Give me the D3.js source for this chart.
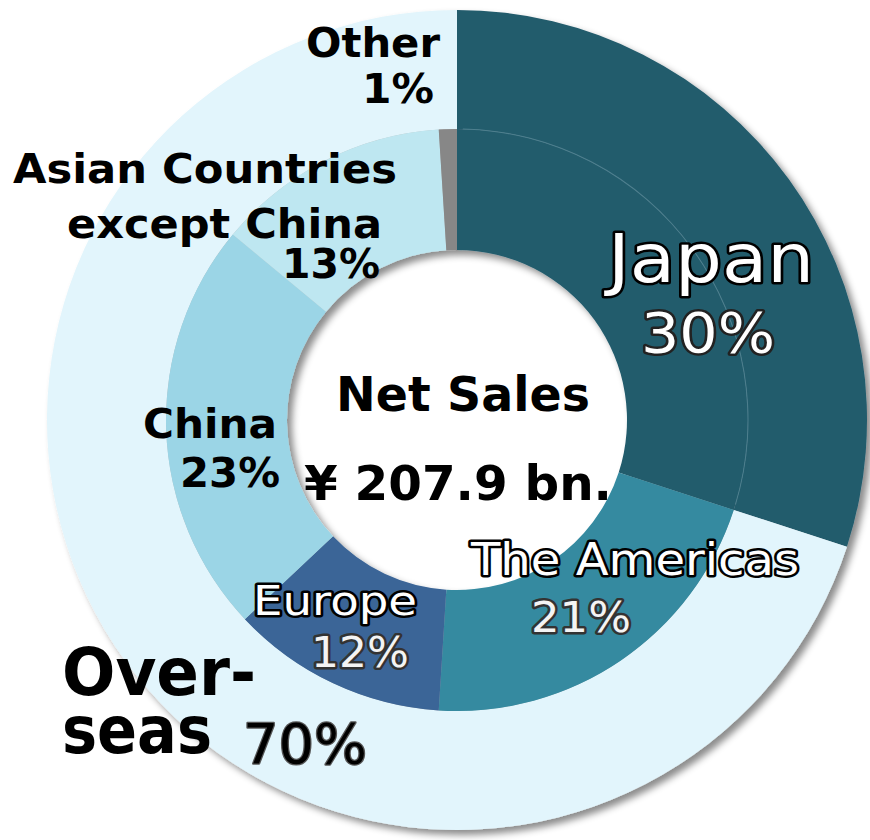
<!DOCTYPE html>
<html>
<head>
<meta charset="utf-8">
<script src="https://cdn.jsdelivr.net/npm/d3@7"></script>
<style>
  html, body { margin: 0; padding: 0; background: #ffffff; }
  svg { display: block; }
</style>
</head>
<body>
<div id="chart"></div>
<script>
// Net sales by region: inner ring = regions, outer ring = Japan vs. Overseas
const regionNames  = ["Japan", "The Americas", "Europe", "China", "Asian Countries except China", "Other"];
const regionShares = [30, 21, 12, 23, 13, 1];
const regionColors = ["#245b6c", "#348aa0", "#3b6597", "#9bd5e6", "#bee7f1", "#878787"];

const splitNames  = ["Japan", "Overseas"];
const splitShares = [30, 70];
const splitColors = ["#245b6c", "#e2f5fc"];

const centerTitle = "Net Sales";
const centerValue = "¥ 207.9 bn.";

const W = 870, H = 840;
const cx = 457, cy = 420;
const rHole = 170, rMid = 291, rOuter = 410;

const svg = d3.select("#chart").append("svg")
  .attr("width", W).attr("height", H)
  .attr("font-family", "'DejaVu Sans', Verdana, sans-serif");

const defs = svg.append("defs");
const shadow = defs.append("filter").attr("id", "ringShadow")
  .attr("x", "-10%").attr("y", "-10%").attr("width", "125%").attr("height", "125%");
shadow.append("feDropShadow")
  .attr("dx", 5).attr("dy", 5).attr("stdDeviation", 3.5)
  .attr("flood-color", "#000").attr("flood-opacity", 0.45);

const pie = d3.pie().sort(null).value(d => d.v);

const rings = svg.append("g")
  .attr("transform", `translate(${cx},${cy})`)
  .attr("filter", "url(#ringShadow)");

// outer ring: Japan / Overseas
const outerArc = d3.arc().innerRadius(rMid).outerRadius(rOuter);
rings.append("g").selectAll("path")
  .data(pie(splitNames.map((n, i) => ({ n, v: splitShares[i], c: splitColors[i] }))))
  .join("path")
  .attr("d", outerArc)
  .attr("fill", d => d.data.c);

// inner ring: regions
const innerArc = d3.arc().innerRadius(rHole).outerRadius(rMid);
rings.append("g").selectAll("path")
  .data(pie(regionNames.map((n, i) => ({ n, v: regionShares[i], c: regionColors[i] }))))
  .join("path")
  .attr("d", innerArc)
  .attr("fill", d => d.data.c);

// faint seam between the two rings inside the Japan slice
const japanEnd = pie(splitShares.map(v => ({ v })))[0].endAngle;
svg.append("path")
  .attr("transform", `translate(${cx},${cy})`)
  .attr("d", d3.arc().innerRadius(rMid - 0.5).outerRadius(rMid + 0.5)({ startAngle: 0.02, endAngle: japanEnd - 0.02 }))
  .attr("fill", "#4d7f8e");

// text helper
function label(x, y, str, o) {
  const t = svg.append("text")
    .attr("x", x).attr("y", y)
    .attr("text-anchor", o.anchor || "start")
    .attr("font-size", o.size)
    .attr("font-weight", o.weight || "normal")
    .attr("fill", o.fill || "#000")
    .text(str);
  if (o.stroke) {
    t.attr("stroke", o.stroke)
     .attr("stroke-width", o.sw || 4)
     .attr("stroke-linejoin", "round")
     .attr("paint-order", "stroke");
  }
  if (o.len) t.attr("textLength", o.len).attr("lengthAdjust", "spacingAndGlyphs");
  return t;
}

// region labels
label(440, 57, "Other", { anchor: "end", size: 40, weight: "bold", len: 134 });
label(434, 103, "1%", { anchor: "end", size: 40, weight: "bold", len: 72 });

label(13, 183, "Asian Countries", { size: 40, weight: "bold", len: 384 });
label(67, 238, "except China", { size: 40, weight: "bold", len: 315 });
label(380, 278, "13%", { anchor: "end", size: 40, weight: "bold", len: 98 });

label(277, 438, "China", { anchor: "end", size: 40, weight: "bold", len: 134 });
label(280, 487, "23%", { anchor: "end", size: 40, weight: "bold", len: 100 });

label(463, 411, centerTitle, { anchor: "middle", size: 48, weight: "bold", len: 254 });
label(458, 500, centerValue, { anchor: "middle", size: 48, weight: "bold", len: 308 });

label(711, 282, "Japan", { anchor: "middle", size: 68, fill: "#fff", stroke: "#000", sw: 5, len: 206 });
label(708, 352, "30%", { anchor: "middle", size: 56, fill: "#fff", stroke: "#222", sw: 5, len: 134 });

label(635, 575, "The Americas", { anchor: "middle", size: 44, fill: "#fff", stroke: "#000", sw: 5, len: 328 });
label(581, 632, "21%", { anchor: "middle", size: 42, fill: "#f4f4f4", stroke: "#333", sw: 5, len: 100 });

label(335, 615, "Europe", { anchor: "middle", size: 41, fill: "#fff", stroke: "#000", sw: 5, len: 164 });
label(360, 667, "12%", { anchor: "middle", size: 42, fill: "#f4f4f4", stroke: "#333", sw: 5, len: 98 });

label(62, 695, "Over-", { size: 66, weight: "bold", len: 194 });
label(62, 753, "seas", { size: 66, weight: "bold", len: 150 });
label(243, 763, "70%", { size: 56, fill: "#000", stroke: "#555", sw: 2.5, len: 124 });
</script>
</body>
</html>
